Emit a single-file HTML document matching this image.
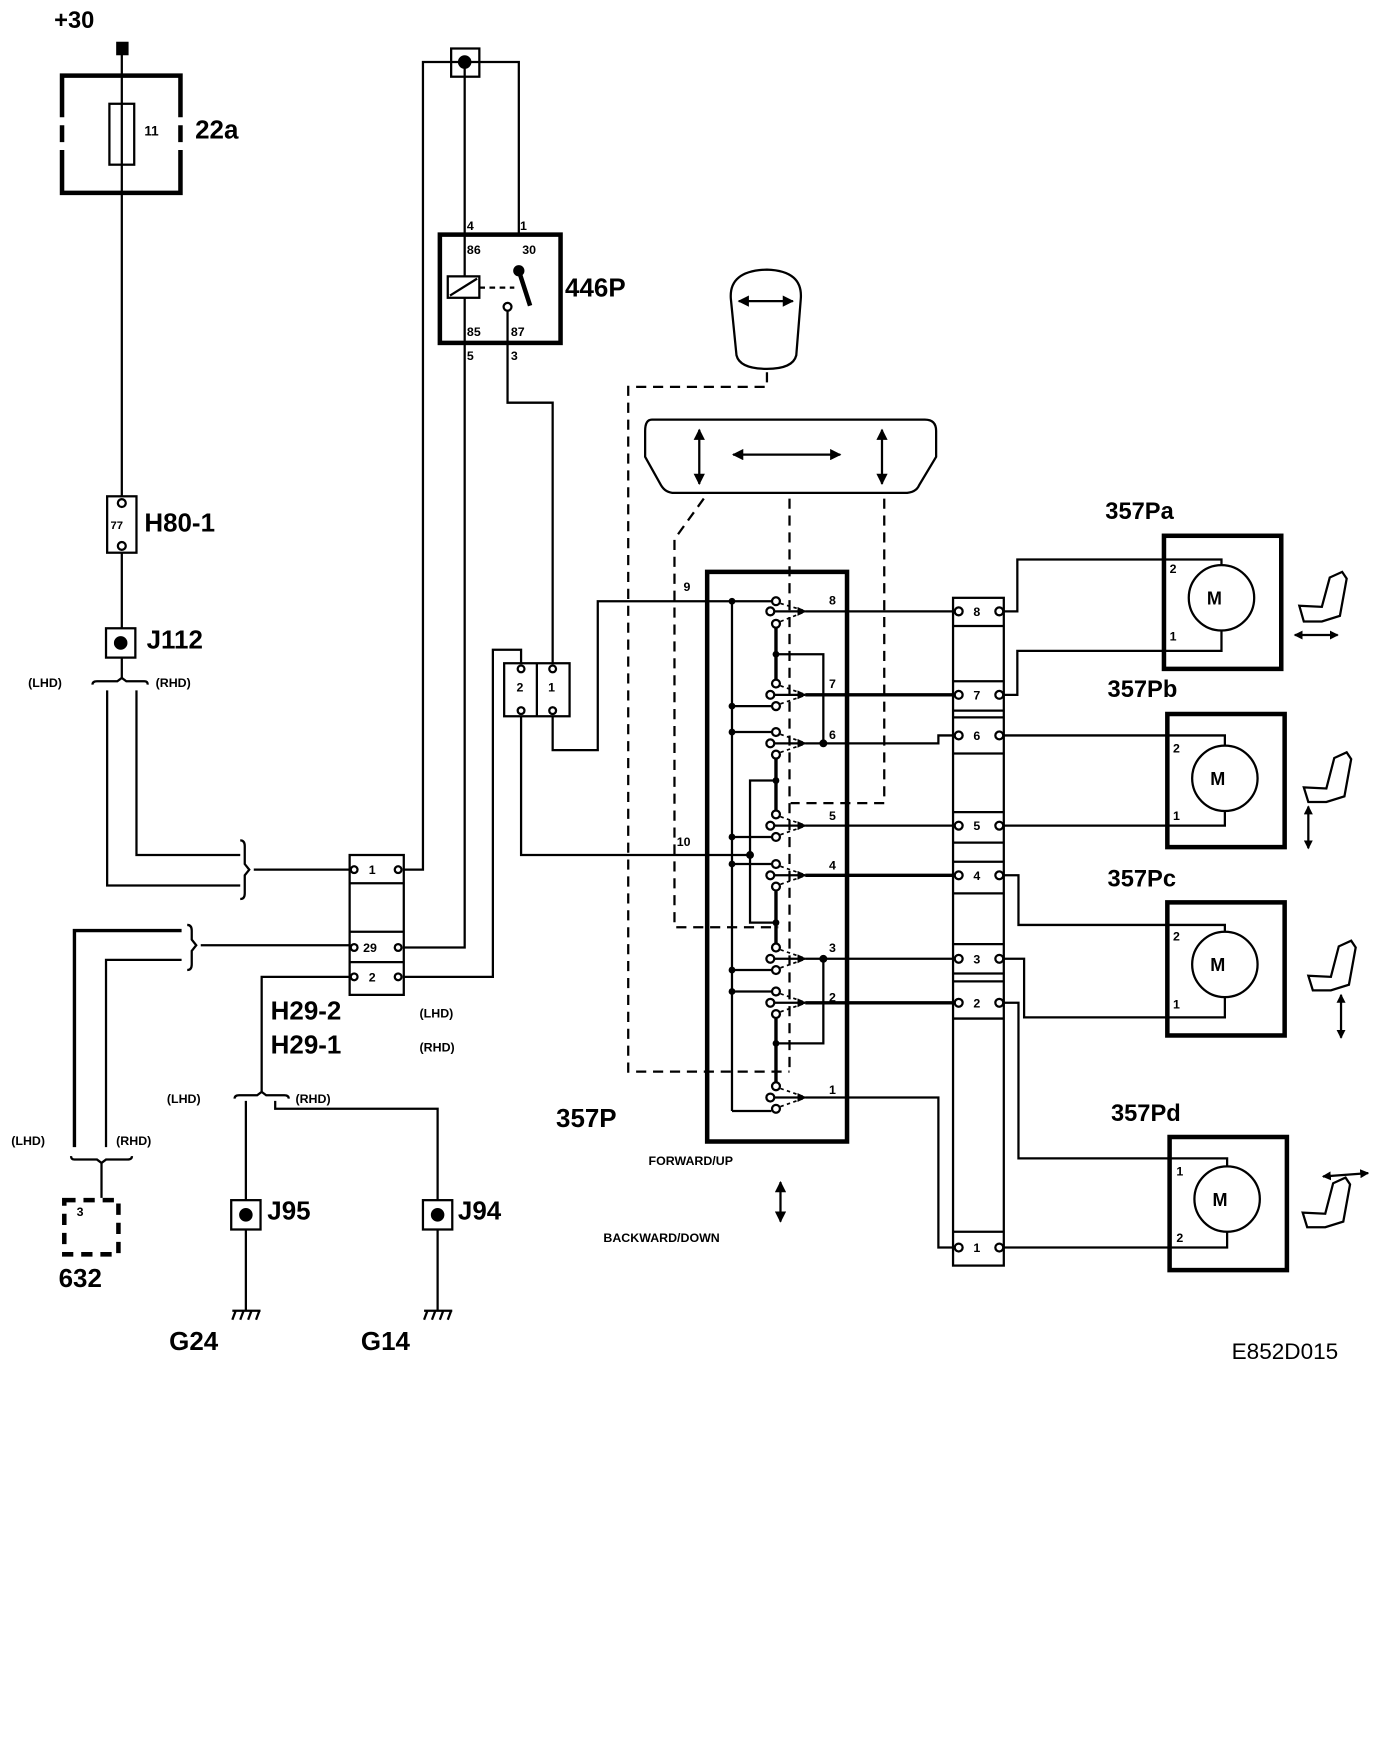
<!DOCTYPE html>
<html><head><meta charset="utf-8"><style>
html,body{margin:0;padding:0;background:#fff}
svg{display:block}
text{font-family:"Liberation Sans",sans-serif;font-weight:bold;fill:#000}
</style></head><body>
<svg width="1376" height="1754" viewBox="0 0 1220 1555" preserveAspectRatio="none" xmlns="http://www.w3.org/2000/svg">
<defs>
<marker id="ah" markerWidth="8" markerHeight="8" refX="7" refY="4" orient="auto" markerUnits="userSpaceOnUse"><path d="M0,0 L8,4 L0,8 Z" fill="#000"/></marker>
<marker id="ahs" markerWidth="10" markerHeight="10" refX="9" refY="5" orient="auto-start-reverse" markerUnits="userSpaceOnUse"><path d="M0,0 L10,5 L0,10 Z" fill="#000"/></marker>
<marker id="ahm" markerWidth="8" markerHeight="8" refX="7" refY="4" orient="auto-start-reverse" markerUnits="userSpaceOnUse"><path d="M0,0 L8,4 L0,8 Z" fill="#000"/></marker>
</defs>
<g fill="none" stroke="#000" stroke-width="2">
<rect x="104" y="38" width="9" height="10" fill="#000"/>
<line x1="108" y1="48" x2="108" y2="440"/>
<path d="M55,104 V67 H160 V104 M160,111 V126 M160,133 V171 H55 V133 M55,126 V111" stroke-width="4"/>
<rect x="97" y="92" width="22" height="54"/>
<rect x="95" y="440" width="26" height="50"/>
<circle cx="108" cy="446" r="3.5" fill="#fff"/>
<circle cx="108" cy="484" r="3.5" fill="#fff"/>
<line x1="108" y1="490" x2="108" y2="557"/>
<rect x="94" y="557" width="26" height="26"/>
<circle cx="107" cy="570" r="5" fill="#000"/>
<line x1="108" y1="583" x2="108" y2="602"/>
<path d="M82,607 Q82,604 86,604 H104 L108,601 L112,604 H128 Q131,604 131,607"/>
<path d="M95,612 V785 H213"/>
<path d="M121,612 V758 H213"/>
<path d="M213,745 Q217,745 217,750 V766 L221,771 L217,776 V792 Q217,797 213,797"/>
<line x1="225" y1="771" x2="310" y2="771"/>
<path d="M66,1017 V825 H161" stroke-width="3"/>
<path d="M94,1017 V851 H161"/>
<path d="M166,820 Q170,820 170,825 V833 L174,838 L170,843 V855 Q170,860 166,860"/>
<line x1="178" y1="838" x2="310" y2="838"/>
<path d="M63,1025 Q63,1028 66,1028 H86 L90,1031 L94,1028 H113 Q117,1028 117,1025"/>
<line x1="90" y1="1031" x2="90" y2="1062"/>
<rect x="57" y="1064" width="48" height="48" stroke-width="4" stroke-dasharray="10,7"/>
<rect x="310" y="758" width="48" height="124"/>
<line x1="310" y1="783" x2="358" y2="783"/>
<line x1="310" y1="826" x2="358" y2="826"/>
<line x1="310" y1="853" x2="358" y2="853"/>
<circle cx="314" cy="771" r="3" fill="#fff"/><circle cx="353" cy="771" r="3" fill="#fff"/>
<circle cx="314" cy="840" r="3" fill="#fff"/><circle cx="353" cy="840" r="3" fill="#fff"/>
<circle cx="314" cy="866" r="3" fill="#fff"/><circle cx="353" cy="866" r="3" fill="#fff"/>
<path d="M310,866 H232 V968"/>
<path d="M208,974 Q208,971 212,971 H228 L232,968 L236,971 H252 Q256,971 256,974"/>
<line x1="218" y1="976" x2="218" y2="1064"/>
<path d="M244,976 V983 H388 V1064"/>
<rect x="205" y="1064" width="26" height="26"/><circle cx="218" cy="1077" r="5" fill="#000"/>
<rect x="375" y="1064" width="26" height="26"/><circle cx="388" cy="1077" r="5" fill="#000"/>
<line x1="218" y1="1090" x2="218" y2="1162"/>
<line x1="388" y1="1090" x2="388" y2="1162"/>
<path d="M206,1162 H231 M209,1162 L206,1170 M216,1162 L213,1170 M223,1162 L220,1170 M230,1162 L227,1170"/>
<path d="M376,1162 H401 M379,1162 L376,1170 M386,1162 L383,1170 M393,1162 L390,1170 M400,1162 L397,1170"/>
<rect x="400" y="43" width="25" height="25"/>
<circle cx="412" cy="55" r="5" fill="#000"/>
<path d="M358,771 H375 V55 H460 V208"/>
<path d="M358,840 H412 V55"/>
<rect x="390" y="208" width="107" height="96" stroke-width="4"/>
<rect x="397" y="245" width="28" height="19" fill="#fff"/>
<line x1="399" y1="262" x2="423" y2="247"/>
<line x1="425" y1="255" x2="456" y2="255" stroke-dasharray="5,4"/>
<circle cx="460" cy="240" r="4" fill="#000"/>
<line x1="460" y1="240" x2="470" y2="271" stroke-width="4"/>
<circle cx="450" cy="272" r="3.5" fill="#fff"/>
<path d="M450,276 V357 H490 V588"/>
<path d="M358,866 H437 V576 H462 V588"/>
<rect x="447" y="588" width="58" height="47"/>
<line x1="476" y1="588" x2="476" y2="635"/>
<circle cx="462" cy="593" r="3" fill="#fff"/><circle cx="490" cy="593" r="3" fill="#fff"/>
<circle cx="462" cy="630" r="3" fill="#fff"/><circle cx="490" cy="630" r="3" fill="#fff"/>
<path d="M490,635 V665 H530 V533 H649"/>
<path d="M462,635 V758 H665"/>
<path d="M648,265 Q646,240 680,239 Q712,240 710,265 L706,315 Q703,327 680,327 Q656,327 653,315 Z"/>
<path d="M578,372 H820 Q830,372 830,382 V405 L815,430 Q812,437 802,437 H598 Q590,437 586,430 L572,405 V382 Q572,372 578,372 Z"/>
<line x1="655" y1="267" x2="703" y2="267" marker-start="url(#ahs)" marker-end="url(#ahs)"/>
<line x1="620" y1="381" x2="620" y2="429" marker-start="url(#ahs)" marker-end="url(#ahs)"/>
<line x1="782" y1="381" x2="782" y2="429" marker-start="url(#ahs)" marker-end="url(#ahs)"/>
<line x1="650" y1="403" x2="745" y2="403" marker-start="url(#ahs)" marker-end="url(#ahs)"/>
<g stroke-dasharray="9,6">
<path d="M680,330 V343 H557 V950 H700"/>
<path d="M624,442 L598,478 V822 H690"/>
<path d="M700,442 V950"/>
<path d="M784,442 V712 H701"/>
</g>
<rect x="627" y="507" width="124" height="505" stroke-width="4"/>
<line x1="649" y1="533" x2="649" y2="985"/>
<line x1="692" y1="1048" x2="692" y2="1083" marker-start="url(#ahs)" marker-end="url(#ahs)"/>
<rect x="845" y="530" width="45" height="592"/>
</g>
<g fill="none" stroke="#000" stroke-width="2">
<g>
<path d="M649,533 H684"/><circle cx="688" cy="533" r="3.5" fill="#fff"/>
<circle cx="683" cy="542" r="3.5" fill="#fff"/><circle cx="688" cy="553" r="3.5" fill="#fff"/>
<line x1="687" y1="542" x2="714" y2="542" marker-end="url(#ah)"/>
<path d="M692,535 L712,541 M692,551 L712,543" stroke-dasharray="3,3" stroke-width="1.5"/>
</g>
<g>
<circle cx="688" cy="606" r="3.5" fill="#fff"/>
<circle cx="683" cy="616" r="3.5" fill="#fff"/><circle cx="688" cy="626" r="3.5" fill="#fff"/>
<path d="M649,626 H684"/>
<line x1="687" y1="616" x2="714" y2="616" marker-end="url(#ah)"/>
<path d="M692,608 L712,615 M692,624 L712,617" stroke-dasharray="3,3" stroke-width="1.5"/>
</g>
<g>
<path d="M649,649 H684"/><circle cx="688" cy="649" r="3.5" fill="#fff"/>
<circle cx="683" cy="659" r="3.5" fill="#fff"/><circle cx="688" cy="669" r="3.5" fill="#fff"/>
<line x1="687" y1="659" x2="714" y2="659" marker-end="url(#ah)"/>
<path d="M692,651 L712,658 M692,667 L712,660" stroke-dasharray="3,3" stroke-width="1.5"/>
</g>
<g>
<circle cx="688" cy="722" r="3.5" fill="#fff"/>
<circle cx="683" cy="732" r="3.5" fill="#fff"/><circle cx="688" cy="742" r="3.5" fill="#fff"/>
<path d="M649,742 H684"/>
<line x1="687" y1="732" x2="714" y2="732" marker-end="url(#ah)"/>
<path d="M692,724 L712,731 M692,740 L712,733" stroke-dasharray="3,3" stroke-width="1.5"/>
</g>
<g>
<path d="M649,766 H684"/><circle cx="688" cy="766" r="3.5" fill="#fff"/>
<circle cx="683" cy="776" r="3.5" fill="#fff"/><circle cx="688" cy="786" r="3.5" fill="#fff"/>
<line x1="687" y1="776" x2="714" y2="776" marker-end="url(#ah)"/>
<path d="M692,768 L712,775 M692,784 L712,777" stroke-dasharray="3,3" stroke-width="1.5"/>
</g>
<g>
<circle cx="688" cy="840" r="3.5" fill="#fff"/>
<circle cx="683" cy="850" r="3.5" fill="#fff"/><circle cx="688" cy="860" r="3.5" fill="#fff"/>
<path d="M649,860 H684"/>
<line x1="687" y1="850" x2="714" y2="850" marker-end="url(#ah)"/>
<path d="M692,842 L712,849 M692,858 L712,851" stroke-dasharray="3,3" stroke-width="1.5"/>
</g>
<g>
<path d="M649,879 H684"/><circle cx="688" cy="879" r="3.5" fill="#fff"/>
<circle cx="683" cy="889" r="3.5" fill="#fff"/><circle cx="688" cy="899" r="3.5" fill="#fff"/>
<line x1="687" y1="889" x2="714" y2="889" marker-end="url(#ah)"/>
<path d="M692,881 L712,888 M692,897 L712,890" stroke-dasharray="3,3" stroke-width="1.5"/>
</g>
<g>
<circle cx="688" cy="963" r="3.5" fill="#fff"/>
<circle cx="683" cy="973" r="3.5" fill="#fff"/><circle cx="688" cy="983" r="3.5" fill="#fff"/>
<path d="M649,985 H684"/>
<line x1="687" y1="973" x2="714" y2="973" marker-end="url(#ah)"/>
<path d="M692,965 L712,972 M692,981 L712,974" stroke-dasharray="3,3" stroke-width="1.5"/>
</g>
<g stroke-width="3">
<line x1="688" y1="557" x2="688" y2="602"/>
<line x1="688" y1="673" x2="688" y2="718"/>
<line x1="688" y1="790" x2="688" y2="836"/>
<line x1="688" y1="903" x2="688" y2="959"/>
</g>
<path d="M688,580 H730 V659"/>
<path d="M688,692 H665 V818 H688"/>
<path d="M730,850 V925 H688"/>
<g fill="#000" stroke="none">
<circle cx="649" cy="533" r="3"/><circle cx="649" cy="626" r="3"/><circle cx="649" cy="649" r="3"/>
<circle cx="649" cy="742" r="3"/><circle cx="649" cy="766" r="3"/><circle cx="649" cy="860" r="3"/>
<circle cx="649" cy="879" r="3"/><circle cx="688" cy="580" r="3"/><circle cx="730" cy="659" r="3.5"/>
<circle cx="688" cy="692" r="3"/><circle cx="665" cy="758" r="3.5"/><circle cx="688" cy="818" r="3"/>
<circle cx="730" cy="850" r="3.5"/><circle cx="688" cy="925" r="3"/>
</g>
<line x1="714" y1="542" x2="846" y2="542"/>
<line x1="714" y1="616" x2="846" y2="616" stroke-width="3"/>
<path d="M714,659 H832 V652 H846"/>
<line x1="714" y1="732" x2="846" y2="732"/>
<line x1="714" y1="776" x2="846" y2="776" stroke-width="3"/>
<line x1="714" y1="850" x2="846" y2="850"/>
<line x1="714" y1="889" x2="846" y2="889" stroke-width="3"/>
<path d="M714,973 H832 V1106 H846"/>
<g>
<line x1="845" y1="555" x2="890" y2="555"/>
<line x1="845" y1="604" x2="890" y2="604"/><line x1="845" y1="630" x2="890" y2="630"/>
<line x1="845" y1="636" x2="890" y2="636"/><line x1="845" y1="668" x2="890" y2="668"/>
<line x1="845" y1="720" x2="890" y2="720"/><line x1="845" y1="747" x2="890" y2="747"/>
<line x1="845" y1="764" x2="890" y2="764"/><line x1="845" y1="792" x2="890" y2="792"/>
<line x1="845" y1="837" x2="890" y2="837"/><line x1="845" y1="863" x2="890" y2="863"/>
<line x1="845" y1="870" x2="890" y2="870"/><line x1="845" y1="903" x2="890" y2="903"/>
<line x1="845" y1="1092" x2="890" y2="1092"/>
</g>
<g fill="#fff">
<circle cx="850" cy="542" r="3.5"/><circle cx="886" cy="542" r="3.5"/>
<circle cx="850" cy="616" r="3.5"/><circle cx="886" cy="616" r="3.5"/>
<circle cx="850" cy="652" r="3.5"/><circle cx="886" cy="652" r="3.5"/>
<circle cx="850" cy="732" r="3.5"/><circle cx="886" cy="732" r="3.5"/>
<circle cx="850" cy="776" r="3.5"/><circle cx="886" cy="776" r="3.5"/>
<circle cx="850" cy="850" r="3.5"/><circle cx="886" cy="850" r="3.5"/>
<circle cx="850" cy="889" r="3.5"/><circle cx="886" cy="889" r="3.5"/>
<circle cx="850" cy="1106" r="3.5"/><circle cx="886" cy="1106" r="3.5"/>
</g>
<rect x="1032" y="475" width="104" height="118" stroke-width="4"/>
<circle cx="1083" cy="530" r="29"/>
<path d="M890,542 H902 V496 H1083 V501"/>
<path d="M890,616 H902 V577 H1083 V559"/>
<rect x="1035" y="633" width="104" height="118" stroke-width="4"/>
<circle cx="1086" cy="690" r="29"/>
<path d="M890,652 H1086 V661"/>
<path d="M890,732 H1086 V719"/>
<rect x="1035" y="800" width="104" height="118" stroke-width="4"/>
<circle cx="1086" cy="855" r="29"/>
<path d="M890,776 H903 V820 H1086 V826"/>
<path d="M890,850 H908 V902 H1086 V884"/>
<rect x="1037" y="1008" width="104" height="118" stroke-width="4"/>
<circle cx="1088" cy="1063" r="29"/>
<path d="M890,889 H903 V1027 H1088 V1034"/>
<path d="M890,1106 H1088 V1092"/>
<path d="M1152,537 L1172,538 L1179,512 L1190,507 L1194,513 L1188,546 L1172,551 L1156,551 Z"/>
<line x1="1148" y1="563" x2="1186" y2="563" marker-start="url(#ahm)" marker-end="url(#ahm)"/>
<path d="M1156,698 L1176,699 L1183,672 L1194,667 L1198,673 L1192,706 L1176,711 L1160,711 Z"/>
<line x1="1160" y1="715" x2="1160" y2="752" marker-start="url(#ahm)" marker-end="url(#ahm)"/>
<path d="M1160,865 L1180,866 L1187,839 L1198,834 L1202,840 L1196,873 L1180,878 L1164,878 Z"/>
<line x1="1189" y1="882" x2="1189" y2="920" marker-start="url(#ahm)" marker-end="url(#ahm)"/>
<path d="M1155,1075 L1175,1076 L1182,1049 L1193,1044 L1197,1050 L1191,1083 L1175,1088 L1159,1088 Z"/>
<line x1="1173" y1="1043" x2="1213" y2="1040" marker-start="url(#ahm)" marker-end="url(#ahm)"/>
</g>
<text x="48" y="25" font-size="21">+30</text>
<text x="128" y="120" font-size="12">11</text>
<text x="173" y="123" font-size="23">22a</text>
<text x="98" y="469" font-size="10">77</text>
<text x="128" y="471" font-size="23">H80-1</text>
<text x="130" y="575" font-size="23">J112</text>
<text x="25" y="609" font-size="11">(LHD)</text>
<text x="138" y="609" font-size="11">(RHD)</text>
<text x="327" y="775" font-size="11">1</text>
<text x="322" y="844" font-size="11">29</text>
<text x="327" y="870" font-size="11">2</text>
<text x="240" y="904" font-size="23">H29-2</text>
<text x="372" y="902" font-size="11">(LHD)</text>
<text x="240" y="934" font-size="23">H29-1</text>
<text x="372" y="932" font-size="11">(RHD)</text>
<text x="148" y="978" font-size="11">(LHD)</text>
<text x="262" y="978" font-size="11">(RHD)</text>
<text x="10" y="1015" font-size="11">(LHD)</text>
<text x="103" y="1015" font-size="11">(RHD)</text>
<text x="68" y="1078" font-size="11">3</text>
<text x="52" y="1141" font-size="23">632</text>
<text x="237" y="1081" font-size="23">J95</text>
<text x="406" y="1081" font-size="23">J94</text>
<text x="150" y="1197" font-size="23">G24</text>
<text x="320" y="1197" font-size="23">G14</text>
<text x="414" y="204" font-size="11">4</text>
<text x="461" y="204" font-size="11">1</text>
<text x="414" y="225" font-size="11">86</text>
<text x="463" y="225" font-size="11">30</text>
<text x="414" y="298" font-size="11">85</text>
<text x="453" y="298" font-size="11">87</text>
<text x="414" y="319" font-size="11">5</text>
<text x="453" y="319" font-size="11">3</text>
<text x="501" y="263" font-size="23">446P</text>
<text x="458" y="613" font-size="11">2</text>
<text x="486" y="613" font-size="11">1</text>
<text x="606" y="524" font-size="11">9</text>
<text x="600" y="750" font-size="11">10</text>
<text x="735" y="536" font-size="11">8</text>
<text x="735" y="610" font-size="11">7</text>
<text x="735" y="655" font-size="11">6</text>
<text x="735" y="727" font-size="11">5</text>
<text x="735" y="771" font-size="11">4</text>
<text x="735" y="844" font-size="11">3</text>
<text x="735" y="888" font-size="11">2</text>
<text x="735" y="970" font-size="11">1</text>
<text x="493" y="999" font-size="23">357P</text>
<text x="575" y="1033" font-size="11">FORWARD/UP</text>
<text x="535" y="1101" font-size="11">BACKWARD/DOWN</text>
<text x="863" y="546" font-size="11">8</text>
<text x="863" y="620" font-size="11">7</text>
<text x="863" y="656" font-size="11">6</text>
<text x="863" y="736" font-size="11">5</text>
<text x="863" y="780" font-size="11">4</text>
<text x="863" y="854" font-size="11">3</text>
<text x="863" y="893" font-size="11">2</text>
<text x="863" y="1110" font-size="11">1</text>
<text x="980" y="460" font-size="21">357Pa</text>
<text x="982" y="618" font-size="21">357Pb</text>
<text x="982" y="786" font-size="21">357Pc</text>
<text x="985" y="994" font-size="21">357Pd</text>
<text x="1070" y="536" font-size="16">M</text>
<text x="1073" y="696" font-size="16">M</text>
<text x="1073" y="861" font-size="16">M</text>
<text x="1075" y="1069" font-size="16">M</text>
<text x="1037" y="508" font-size="11">2</text><text x="1037" y="568" font-size="11">1</text>
<text x="1040" y="667" font-size="11">2</text><text x="1040" y="727" font-size="11">1</text>
<text x="1040" y="834" font-size="11">2</text><text x="1040" y="894" font-size="11">1</text>
<text x="1043" y="1042" font-size="11">1</text><text x="1043" y="1101" font-size="11">2</text>
<text x="1092" y="1205" font-size="20" style="font-weight:normal">E852D015</text>
</svg>
</body></html>
